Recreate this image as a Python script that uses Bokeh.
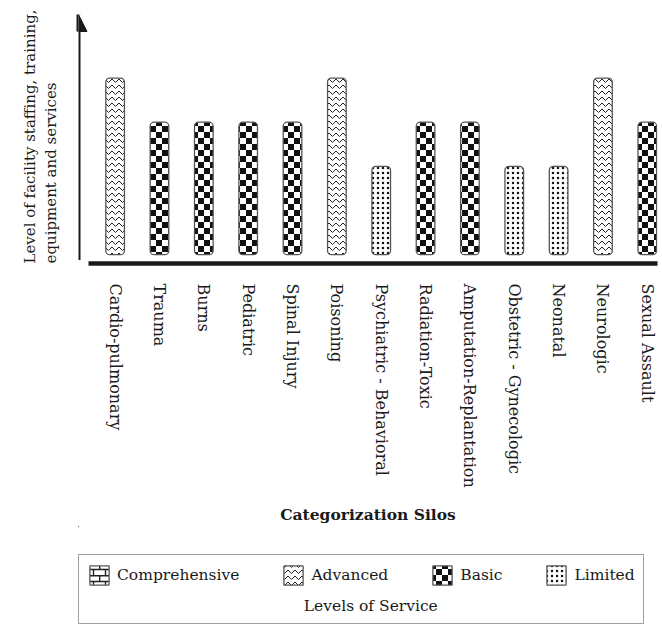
from bokeh.plotting import figure
from bokeh.layouts import column
from bokeh.models import (ColumnDataSource, Range1d, FixedTicker, Arrow, NormalHead,
                          Legend, LegendItem, Title, CanvasTexture)
from bokeh.core.properties import value
from bokeh.embed import file_html
from bokeh.resources import INLINE

# ---------------- data ----------------
categories = ["Cardio-pulmonary", "Trauma", "Burns", "Pediatric", "Spinal Injury",
              "Poisoning", "Psychiatric - Behavioral", "Radiation-Toxic",
              "Amputation-Replantation", "Obstetric - Gynecologic", "Neonatal",
              "Neurologic", "Sexual Assault"]
service_levels = ["Advanced", "Basic", "Basic", "Basic", "Basic", "Advanced", "Limited",
                  "Basic", "Basic", "Limited", "Limited", "Advanced", "Basic"]
level_names = ["Comprehensive", "Advanced", "Basic", "Limited"]
level_values = [5, 4, 3, 2]

FONT = "DejaVu Serif"
FS = "15.5px"
INK = "#1a1a1a"

idx = list(range(len(categories)))
values = [level_values[level_names.index(l)] for l in service_levels]

x_start, x_end = -0.826, 12.23
y_start, y_end = -0.2, 5.44

p = figure(width=662, height=526, x_range=Range1d(x_start, x_end),
           y_range=Range1d(y_start, y_end),
           output_backend="svg", toolbar_location=None, y_axis_location=None,
           min_border_left=72, min_border_right=5, min_border_top=14, min_border_bottom=0)
p.grid.visible = False
p.outline_line_color = None
p.background_fill_color = "white"

# ---------------- textures (tile size set explicitly inside) ----------------
tex = {
    "checker": CanvasTexture(code="ctx.canvas.width=12; ctx.canvas.height=12; ctx.fillStyle='#111'; ctx.fillRect(0,0,6,6); ctx.fillRect(6,6,6,6);"),
    "chevron": CanvasTexture(code="ctx.canvas.width=7; ctx.canvas.height=6; ctx.strokeStyle='#222'; ctx.lineWidth=1; ctx.beginPath(); ctx.moveTo(-0.5,0.5); ctx.lineTo(3.5,4.5); ctx.lineTo(7.5,0.5); ctx.stroke();"),
    "brick": CanvasTexture(code="ctx.canvas.width=12; ctx.canvas.height=12; ctx.strokeStyle='#222'; ctx.lineWidth=1.4; ctx.beginPath(); ctx.moveTo(0,0.7); ctx.lineTo(12,0.7); ctx.moveTo(0,6.5); ctx.lineTo(12,6.5); ctx.moveTo(0.7,0); ctx.lineTo(0.7,6.5); ctx.moveTo(6.5,6.5); ctx.lineTo(6.5,12); ctx.stroke();"),
}
pattern_for = {"Comprehensive": ("brick", 12), "Advanced": ("chevron", 7),
               "Basic": ("checker", 12), "Limited": ("dot", 5)}

def style(name):
    pat, sc = pattern_for[name]
    kw = dict(fill_color="white", line_color="#555555", line_width=1.3,
              hatch_pattern=value(pat), hatch_scale=sc, hatch_weight=1, hatch_color="#111111")
    if pat in tex:
        kw["hatch_extra"] = {pat: tex[pat]}
    return kw

for name in level_names:
    xs = [i for i, l in zip(idx, service_levels) if l == name]
    tops = [v for v, l in zip(values, service_levels) if l == name]
    src = ColumnDataSource(dict(x=xs, top=tops))
    kw = dict(x="x", top="top", bottom=0, width=0.42, source=src, **style(name))
    try:
        p.vbar(border_radius=4, **kw)
    except Exception:
        p.vbar(**kw)

# ---------------- axes ----------------
xa = p.xaxis[0]
xa.ticker = FixedTicker(ticks=idx)
xa.major_label_overrides = {i: c for i, c in zip(idx, categories)}
xa.bounds = (-0.6, 12.22)
xa.axis_line_width = 4.5
xa.axis_line_color = INK
xa.major_tick_line_color = None
xa.minor_tick_line_color = None
xa.major_label_orientation = "vertical"
xa.major_label_standoff = 14
xa.major_label_text_font = FONT
xa.major_label_text_font_size = "16px"
xa.major_label_text_color = INK
xa.axis_label = "Categorization Silos"
xa.axis_label_text_font = FONT
xa.axis_label_text_font_size = FS
xa.axis_label_text_font_style = "bold"
xa.axis_label_text_color = INK
xa.axis_label_standoff = 14

p.add_layout(Arrow(end=NormalHead(size=17, fill_color=INK, line_color=INK),
                   x_start=x_start, y_start=y_start + 0.08, x_end=x_start, y_end=y_end,
                   line_width=4, line_color=INK))

ytitle = Title(text="Level of facility staffing, training,\nequipment and services", align="left",
               text_font=FONT, text_font_size="15px", text_font_style="normal", text_color=INK,
               text_line_height=1.15, standoff=37)
p.add_layout(ytitle, "left")

# ---------------- legend (own strip below the chart) ----------------
lg = figure(width=662, height=99, x_range=Range1d(10, 11), y_range=Range1d(-2, -1),
            output_backend="svg", toolbar_location=None, x_axis_location=None,
            y_axis_location=None, min_border=0)
lg.grid.visible = False
lg.outline_line_color = None

# one proxy row per service level (lies outside this strip's visible range)
legend_renderers = {}
for name, lv in zip(level_names, level_values):
    src = ColumnDataSource(dict(x=[0], top=[lv]))
    kw = dict(x="x", top="top", bottom=0, width=0.42, source=src, **style(name))
    legend_renderers[name] = lg.vbar(**kw)

legend_title = "\u00a0" * 44 + "Levels of Service"
legend = Legend(items=[LegendItem(label=n, renderers=[legend_renderers[n]]) for n in level_names],
                orientation="horizontal", location=(0, 1), title=legend_title,
                label_text_font=FONT, label_text_font_size=FS, label_text_color=INK,
                title_text_font=FONT, title_text_font_size=FS, title_text_font_style="normal",
                title_text_color=INK, title_standoff=10,
                glyph_width=24, glyph_height=24, label_standoff=6,
                spacing=42, padding=8, margin=0, border_line_color="#444444",
                border_line_width=1.2, background_fill_color="white")
try:
    legend.title_location = "below"
except Exception:
    pass
lg.add_layout(legend)

open("out.html", "w").write(file_html(column(p, lg), INLINE))
